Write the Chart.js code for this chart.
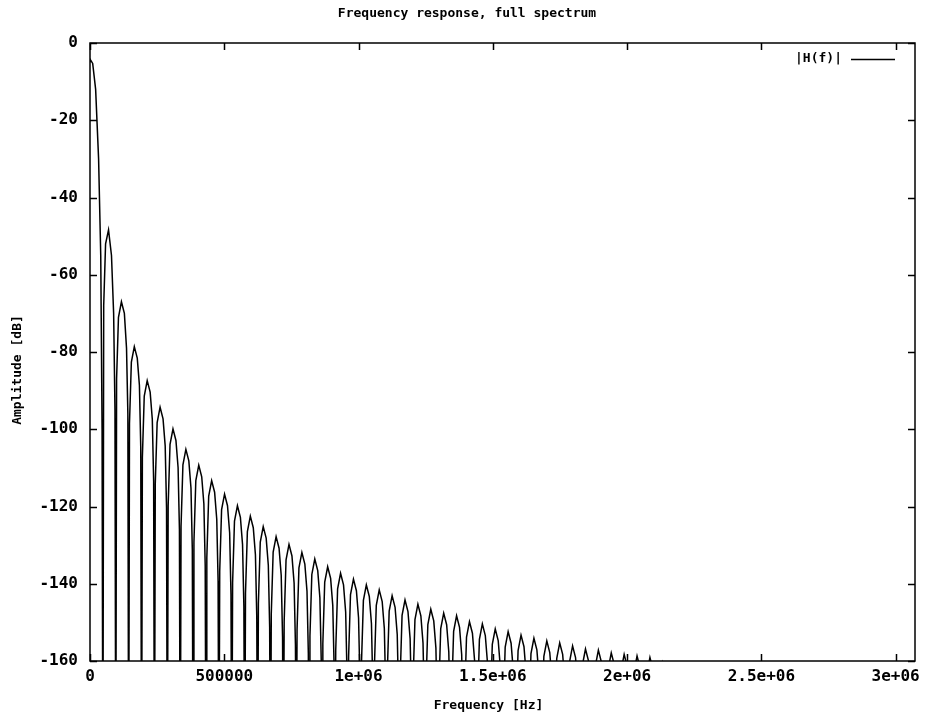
<!DOCTYPE html>
<html>
<head>
<meta charset="utf-8">
<title>Frequency response, full spectrum</title>
<script src="https://cdn.jsdelivr.net/npm/chart.js@4.4.1/dist/chart.umd.min.js"></script>
<style>
  html, body { margin: 0; padding: 0; background: #fff; }
  #wrap { width: 934px; height: 726px; position: relative; }
</style>
</head>
<body>
<div id="wrap"><canvas id="respChart"></canvas></div>
<script>
// values: one row per lobe, samples at lobeOffsetsHz inside each lobe
const lobeSpacingHz = 48000;
const lobeOffsetsHz = [0, 3000, 10000, 21000, 32000, 40000, 45000];
const lobeDb = [
  [-4.8, -4.5, -5.3, -12, -30, -55, -100],
  [-200, -68, -52, -48.4, -55, -70, -95],
  [-200, -87, -71, -67, -70, -79, -96],
  [-200, -98.6, -82.6, -78.6, -81.6, -88.6, -104.6],
  [-200, -107.4, -91.4, -87.4, -90.4, -97.4, -113.4],
  [-200, -114.3, -98.3, -94.3, -97.3, -104.3, -120.3],
  [-200, -119.9, -103.9, -99.9, -102.9, -109.9, -125.9],
  [-200, -125.2, -109.2, -105.2, -108.2, -115.2, -131.2],
  [-200, -129.3, -113.3, -109.3, -112.3, -119.3, -135.3],
  [-200, -133.3, -117.3, -113.3, -116.3, -123.3, -139.3],
  [-200, -136.8, -120.8, -116.8, -119.8, -126.8, -142.8],
  [-200, -139.8, -123.8, -119.8, -122.8, -129.8, -145.8],
  [-200, -142.5, -126.5, -122.5, -125.5, -132.5, -148.5],
  [-200, -145.2, -129.2, -125.2, -128.2, -135.2, -151.2],
  [-200, -147.8, -131.8, -127.8, -130.8, -137.8, -153.8],
  [-200, -149.8, -133.8, -129.8, -132.8, -139.8, -155.8],
  [-200, -151.9, -135.9, -131.9, -134.9, -141.9, -157.9],
  [-200, -153.6, -137.6, -133.6, -136.6, -143.6, -159.6],
  [-200, -155.6, -139.6, -135.6, -138.6, -145.6, -161.6],
  [-200, -157.3, -141.3, -137.3, -140.3, -147.3, -163.3],
  [-200, -158.8, -142.8, -138.8, -141.8, -148.8, -164.8],
  [-200, -160.3, -144.3, -140.3, -143.3, -150.3, -166.3],
  [-200, -161.6, -145.6, -141.6, -144.6, -151.6, -167.6],
  [-200, -163.1, -147.1, -143.1, -146.1, -153.1, -169.1],
  [-200, -164.2, -148.2, -144.2, -147.2, -154.2, -170.2],
  [-200, -165.3, -149.3, -145.3, -148.3, -155.3, -171.3],
  [-200, -166.6, -150.6, -146.6, -149.6, -156.6, -172.6],
  [-200, -167.6, -151.6, -147.6, -150.6, -157.6, -173.6],
  [-200, -168.3, -152.3, -148.3, -151.3, -158.3, -174.3],
  [-200, -169.8, -153.8, -149.8, -152.8, -159.8, -175.8],
  [-200, -170.4, -154.4, -150.4, -153.4, -160.4, -176.4],
  [-200, -171.7, -155.7, -151.7, -154.7, -161.7, -177.7],
  [-200, -172.4, -156.4, -152.4, -155.4, -162.4, -178.4],
  [-200, -173.3, -157.3, -153.3, -156.3, -163.3, -179.3],
  [-200, -174.1, -158.1, -154.1, -157.1, -164.1, -180.1],
  [-200, -174.8, -158.8, -154.8, -157.8, -164.8, -180.8],
  [-200, -175.3, -159.3, -155.3, -158.3, -165.3, -181.3],
  [-200, -176.1, -160.1, -156.1, -159.1, -166.1, -182.1],
  [-200, -176.9, -160.9, -156.9, -159.9, -166.9, -182.9],
  [-200, -177.2, -161.2, -157.2, -160.2, -167.2, -183.2],
  [-200, -177.9, -161.9, -157.9, -160.9, -167.9, -183.9],
  [-200, -178.3, -162.3, -158.3, -161.3, -168.3, -184.3],
  [-200, -178.7, -162.7, -158.7, -161.7, -168.7, -184.7],
  [-200, -179.1, -163.1, -159.1, -162.1, -169.1, -185.1],
  [-200, -180.5, -164.5, -160.5, -163.5, -170.5, -186.5],
  [-200]
];

const xTickValues = [0, 500000, 1000000, 1500000, 2000000, 2500000, 3000000];
const xTickLabels = ["0", "500000", "1e+06", "1.5e+06", "2e+06", "2.5e+06", "3e+06"];
const yTickValues = [0, -20, -40, -60, -80, -100, -120, -140, -160];
const xMaxHz = 3072000;

const FONT = '"DejaVu Sans Mono", "Liberation Mono", monospace';

const points = [];
lobeDb.forEach((row, k) => {
  row.forEach((v, i) => {
    points.push({ x: k * lobeSpacingHz + lobeOffsetsHz[i], y: v });
  });
});

// gnuplot-like frame: border, inward ticks on all sides, titles and key
const framePlugin = {
  id: "frame",
  afterDatasetsDraw(chart) {
    const { ctx, chartArea: a, scales } = chart;
    ctx.save();
    ctx.strokeStyle = "#000";
    ctx.lineWidth = 1.5;
    ctx.strokeRect(a.left, a.top, a.right - a.left, a.bottom - a.top);

    const tl = 7;
    ctx.beginPath();
    xTickValues.forEach(v => {
      const px = Math.round(scales.x.getPixelForValue(v)) + 0.5;
      ctx.moveTo(px, a.bottom); ctx.lineTo(px, a.bottom - tl);
      ctx.moveTo(px, a.top); ctx.lineTo(px, a.top + tl);
    });
    yTickValues.forEach(v => {
      const py = Math.round(scales.y.getPixelForValue(v)) + 0.5;
      ctx.moveTo(a.left, py); ctx.lineTo(a.left + tl, py);
      ctx.moveTo(a.right, py); ctx.lineTo(a.right - tl, py);
    });
    ctx.stroke();

    ctx.fillStyle = "#000";
    ctx.font = "bold 13px " + FONT;
    ctx.textBaseline = "middle";

    ctx.textAlign = "center";
    ctx.fillText("Frequency response, full spectrum", 467, 14);
    ctx.fillText("Frequency [Hz]", (a.left + a.right) / 2 - 14, 706);

    ctx.save();
    ctx.translate(18, (a.top + a.bottom) / 2 + 18);
    ctx.rotate(-Math.PI / 2);
    ctx.fillText("Amplitude [dB]", 0, 0);
    ctx.restore();

    // key
    const ds = chart.data.datasets[0];
    ctx.textAlign = "right";
    ctx.fillText(ds.label, 842, 59);
    ctx.beginPath();
    ctx.lineWidth = 1.5;
    ctx.moveTo(851, 59.5);
    ctx.lineTo(895, 59.5);
    ctx.stroke();
    ctx.restore();
  }
};

new Chart(document.getElementById("respChart"), {
  type: "line",
  data: {
    datasets: [{
      label: "|H(f)|",
      data: points,
      borderColor: "#000",
      borderWidth: 1.5,
      pointRadius: 0,
      tension: 0,
      fill: false
    }]
  },
  options: {
    responsive: true,
    maintainAspectRatio: false,
    animation: false,
    layout: { padding: { top: 43, right: 19, left: 0, bottom: 0 } },
    plugins: {
      legend: { display: false },
      title: { display: false },
      tooltip: { enabled: false }
    },
    scales: {
      x: {
        type: "linear",
        min: 0,
        max: xMaxHz,
        grid: { display: false, drawTicks: false },
        border: { display: false },
        afterBuildTicks: s => { s.ticks = xTickValues.map(v => ({ value: v })); },
        afterFit: s => { s.height = 65; },
        ticks: {
          padding: 6,
          color: "#000",
          maxRotation: 0,
          autoSkip: false,
          font: { family: FONT, size: 16, weight: "bold" },
          callback: v => xTickLabels[xTickValues.indexOf(v)]
        }
      },
      y: {
        min: -160,
        max: 0,
        grid: { display: false, drawTicks: false },
        border: { display: false },
        afterBuildTicks: s => { s.ticks = yTickValues.map(v => ({ value: v })); },
        afterFit: s => { s.width = 90; },
        ticks: {
          padding: 12,
          color: "#000",
          autoSkip: false,
          font: { family: FONT, size: 16, weight: "bold" }
        }
      }
    }
  },
  plugins: [framePlugin]
});
</script>
</body>
</html>
